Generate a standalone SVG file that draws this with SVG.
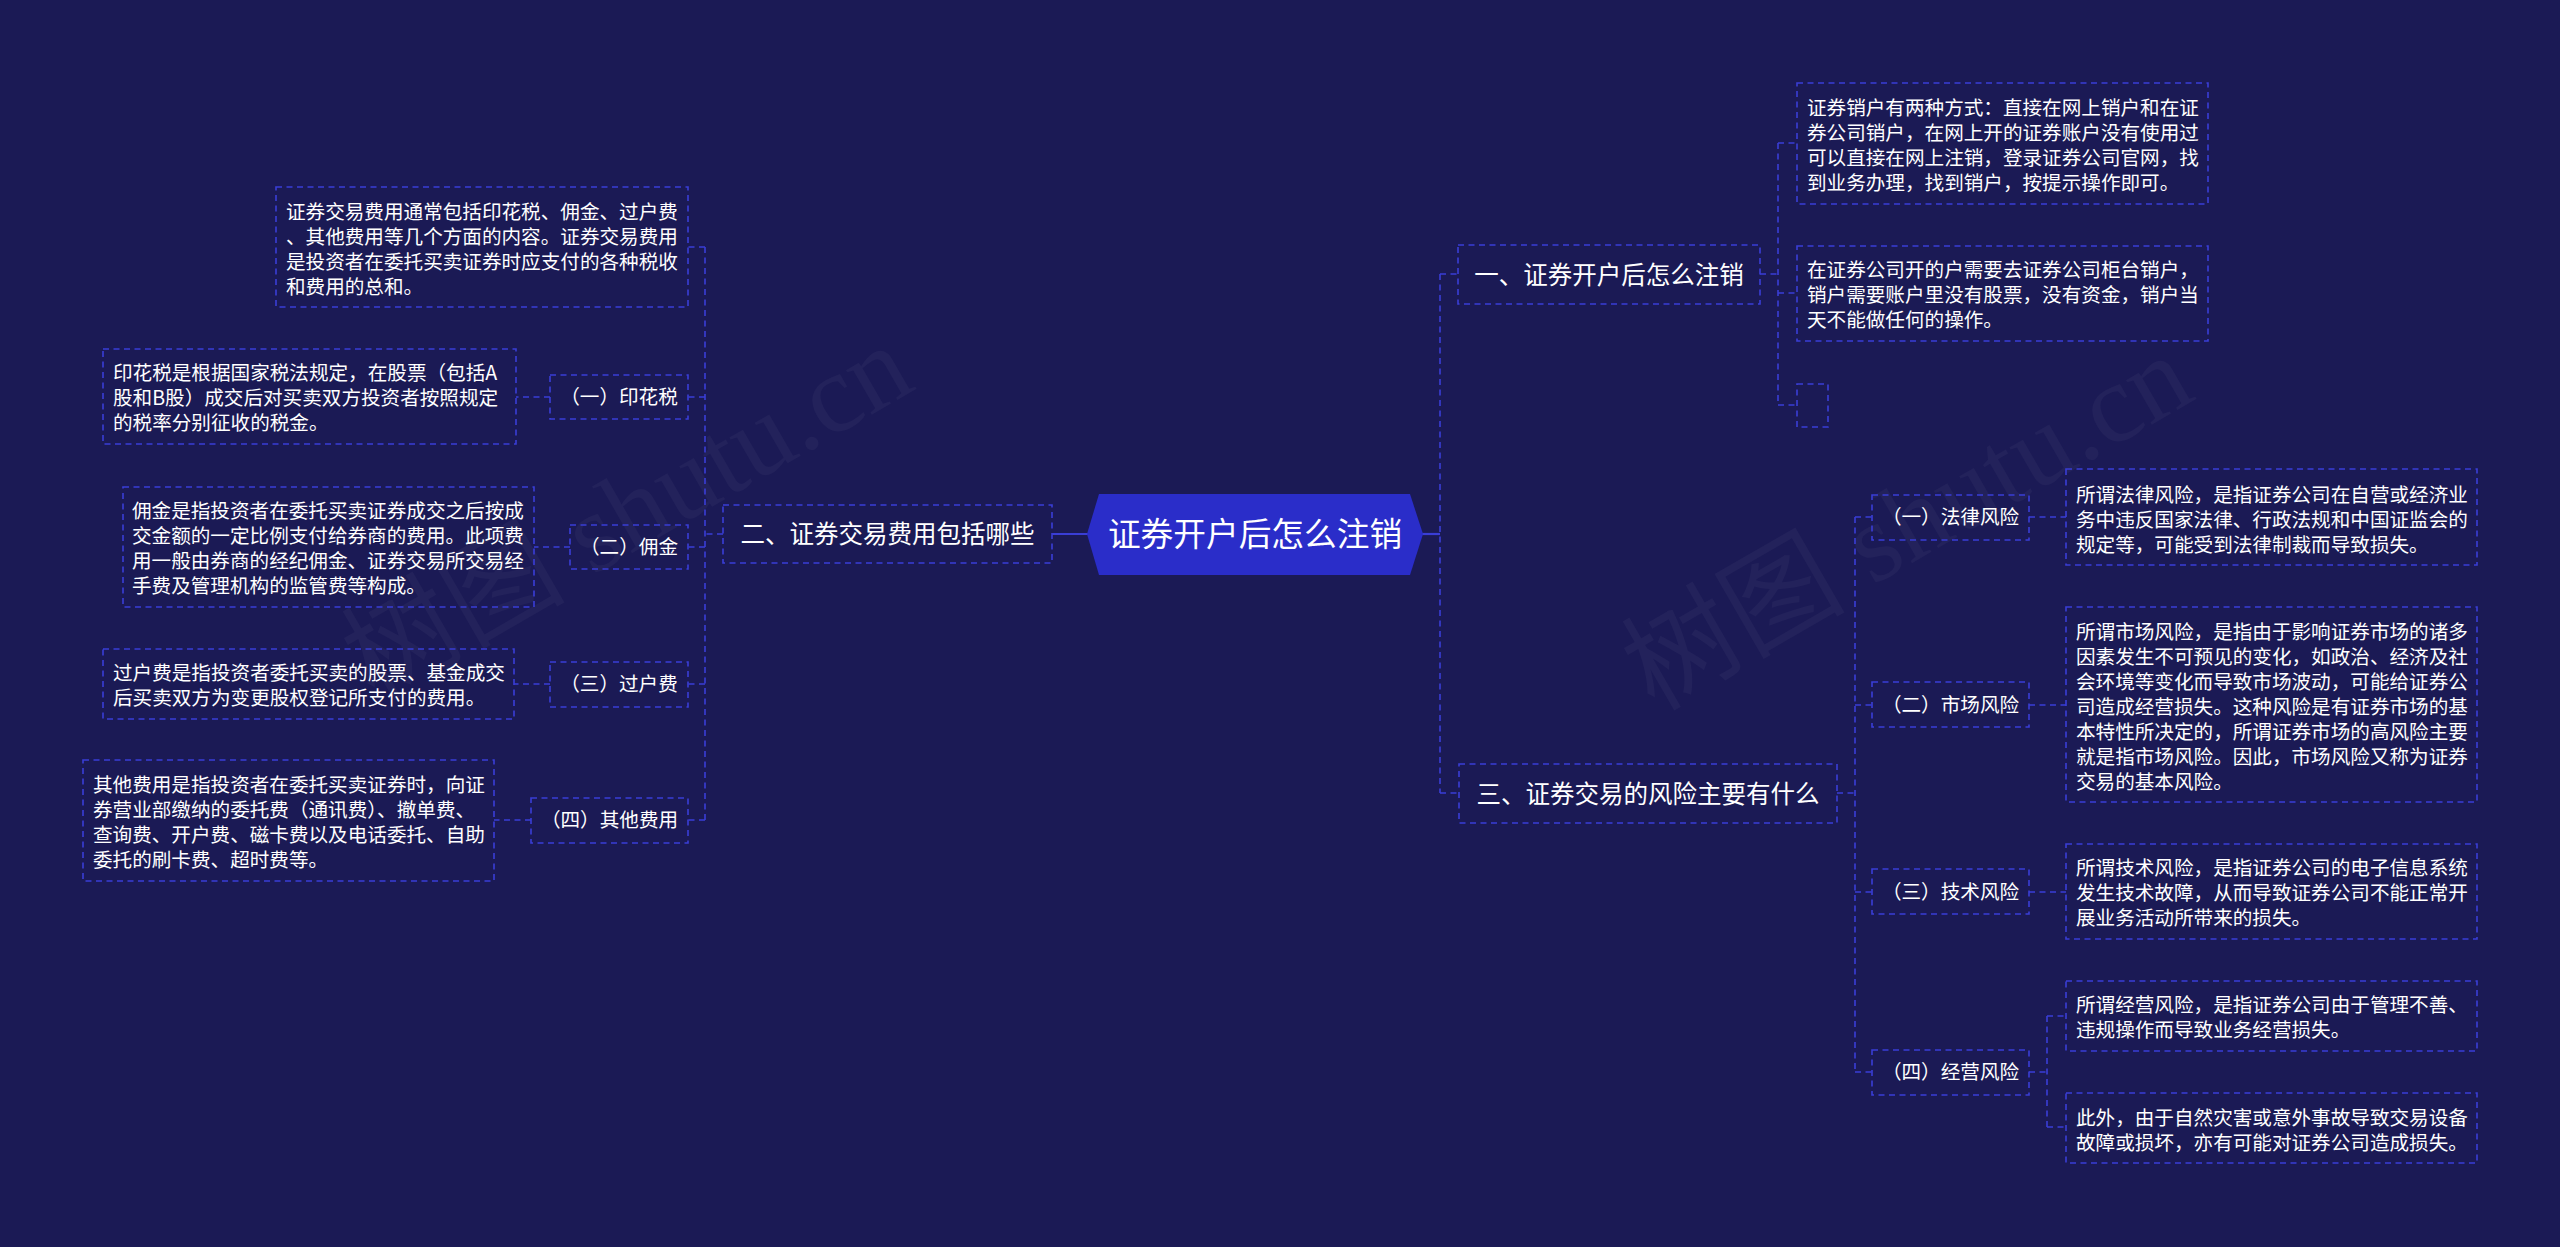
<svg xmlns="http://www.w3.org/2000/svg" width="2560" height="1247" viewBox="0 0 2560 1247">
<style>
.bg{fill:#1b1a55}
.box{fill:none;stroke:#3a3ed6;stroke-width:1.6;stroke-dasharray:6 4.5}
.ln{fill:none;stroke:#3a3ed6;stroke-width:1.6;stroke-dasharray:6 4.5}
.solid{fill:none;stroke:#3a3ed6;stroke-width:2.2}
.t{font-family:"Noto Sans CJK SC","Noto Sans",sans-serif;fill:#ffffff}
.note{font-size:19.6px}
.lab{font-size:19.6px;text-anchor:middle}
.main{font-size:24.5px;text-anchor:middle}
.root{font-size:32.7px;text-anchor:middle}
.wm{font-family:"Liberation Serif","Noto Sans CJK SC",serif;font-size:112px;fill:#ffffff;fill-opacity:0.035;text-anchor:middle}
</style>
<rect class="bg" x="0" y="0" width="2560" height="1247"/>
<g id="watermarks">
<text class="wm" transform="translate(646,545) rotate(-30)">树图 shutu.cn</text>
<text class="wm" transform="translate(1926,555) rotate(-30)">树图 shutu.cn</text>
</g>
<g id="connectors">
<line class="solid" x1="1052" y1="534" x2="1088" y2="534"/>
<line class="solid" x1="1422" y1="534" x2="1440" y2="534"/>
<!-- left branch -->
<line class="ln" x1="723" y1="534" x2="705" y2="534"/>
<line class="ln" x1="705" y1="247" x2="705" y2="820"/>
<line class="ln" x1="705" y1="247" x2="688" y2="247"/>
<line class="ln" x1="705" y1="397" x2="688" y2="397"/>
<line class="ln" x1="705" y1="547" x2="688" y2="547"/>
<line class="ln" x1="705" y1="684" x2="688" y2="684"/>
<line class="ln" x1="705" y1="820" x2="688" y2="820"/>
<line class="ln" x1="550" y1="397" x2="516" y2="397"/>
<line class="ln" x1="570" y1="547" x2="534" y2="547"/>
<line class="ln" x1="550" y1="684" x2="514" y2="684"/>
<line class="ln" x1="531" y1="820" x2="494" y2="820"/>
<!-- right branch -->
<line class="ln" x1="1440" y1="274" x2="1440" y2="793"/>
<line class="ln" x1="1440" y1="274" x2="1458" y2="274"/>
<line class="ln" x1="1440" y1="793" x2="1459" y2="793"/>
<line class="ln" x1="1760" y1="274" x2="1778" y2="274"/>
<line class="ln" x1="1778" y1="143" x2="1778" y2="405"/>
<line class="ln" x1="1778" y1="143" x2="1797" y2="143"/>
<line class="ln" x1="1778" y1="293" x2="1797" y2="293"/>
<line class="ln" x1="1778" y1="405" x2="1797" y2="405"/>
<line class="ln" x1="1837" y1="793" x2="1855" y2="793"/>
<line class="ln" x1="1855" y1="517" x2="1855" y2="1072"/>
<line class="ln" x1="1855" y1="517" x2="1872" y2="517"/>
<line class="ln" x1="1855" y1="705" x2="1872" y2="705"/>
<line class="ln" x1="1855" y1="892" x2="1872" y2="892"/>
<line class="ln" x1="1855" y1="1072" x2="1872" y2="1072"/>
<line class="ln" x1="2029" y1="517" x2="2066" y2="517"/>
<line class="ln" x1="2029" y1="705" x2="2066" y2="705"/>
<line class="ln" x1="2029" y1="892" x2="2066" y2="892"/>
<line class="ln" x1="2029" y1="1072" x2="2047" y2="1072"/>
<line class="ln" x1="2047" y1="1016" x2="2047" y2="1127"/>
<line class="ln" x1="2047" y1="1016" x2="2066" y2="1016"/>
<line class="ln" x1="2047" y1="1127" x2="2066" y2="1127"/>
</g>
<g id="root">
<polygon points="1087,534 1099,494 1410,494 1423,534 1410,575 1099,575" fill="#2a2dc9"/>
<text class="t root" x="1255" y="546">证券开户后怎么注销</text>
</g>
<g id="node-fees">
<rect class="box" x="723" y="505" width="329" height="58"/>
<text class="t main" x="887.5" y="543">二、证券交易费用包括哪些</text>
</g>
<g id="note-fees-summary">
<rect class="box" x="276" y="187" width="412" height="120"/>
<text class="t note" x="286" y="219">证券交易费用通常包括印花税、佣金、过户费</text>
<text class="t note" x="286" y="244">、其他费用等几个方面的内容。证券交易费用</text>
<text class="t note" x="286" y="269">是投资者在委托买卖证券时应支付的各种税收</text>
<text class="t note" x="286" y="294">和费用的总和。</text>
</g>
<g id="label-stamp">
<rect class="box" x="550" y="375" width="138" height="44"/>
<text class="t lab" x="619" y="404">（一）印花税</text>
</g>
<g id="note-stamp">
<rect class="box" x="103" y="349" width="413" height="95"/>
<text class="t note" x="113" y="380">印花税是根据国家税法规定，在股票（包括A</text>
<text class="t note" x="113" y="405">股和B股）成交后对买卖双方投资者按照规定</text>
<text class="t note" x="113" y="430">的税率分别征收的税金。</text>
</g>
<g id="label-commission">
<rect class="box" x="570" y="525" width="118" height="44"/>
<text class="t lab" x="629" y="554">（二）佣金</text>
</g>
<g id="note-commission">
<rect class="box" x="123" y="487" width="411" height="120"/>
<text class="t note" x="132" y="518">佣金是指投资者在委托买卖证券成交之后按成</text>
<text class="t note" x="132" y="543">交金额的一定比例支付给券商的费用。此项费</text>
<text class="t note" x="132" y="568">用一般由券商的经纪佣金、证券交易所交易经</text>
<text class="t note" x="132" y="593">手费及管理机构的监管费等构成。</text>
</g>
<g id="label-transfer">
<rect class="box" x="550" y="662" width="138" height="45"/>
<text class="t lab" x="619" y="691">（三）过户费</text>
</g>
<g id="note-transfer">
<rect class="box" x="103" y="649" width="411" height="70"/>
<text class="t note" x="113" y="680">过户费是指投资者委托买卖的股票、基金成交</text>
<text class="t note" x="113" y="705">后买卖双方为变更股权登记所支付的费用。</text>
</g>
<g id="label-other">
<rect class="box" x="531" y="798" width="157" height="45"/>
<text class="t lab" x="609.5" y="827">（四）其他费用</text>
</g>
<g id="note-other">
<rect class="box" x="83" y="760" width="411" height="121"/>
<text class="t note" x="93" y="792">其他费用是指投资者在委托买卖证券时，向证</text>
<text class="t note" x="93" y="817">券营业部缴纳的委托费（通讯费）、撤单费、</text>
<text class="t note" x="93" y="842">查询费、开户费、磁卡费以及电话委托、自助</text>
<text class="t note" x="93" y="867">委托的刷卡费、超时费等。</text>
</g>
<g id="node-cancel">
<rect class="box" x="1458" y="245" width="302" height="59"/>
<text class="t main" x="1609" y="284">一、证券开户后怎么注销</text>
</g>
<g id="note-cancel-1">
<rect class="box" x="1797" y="83" width="411" height="121"/>
<text class="t note" x="1807" y="115">证券销户有两种方式：直接在网上销户和在证</text>
<text class="t note" x="1807" y="140">券公司销户，在网上开的证券账户没有使用过</text>
<text class="t note" x="1807" y="165">可以直接在网上注销，登录证券公司官网，找</text>
<text class="t note" x="1807" y="190">到业务办理，找到销户，按提示操作即可。</text>
</g>
<g id="note-cancel-2">
<rect class="box" x="1797" y="246" width="411" height="95"/>
<text class="t note" x="1807" y="277">在证券公司开的户需要去证券公司柜台销户，</text>
<text class="t note" x="1807" y="302">销户需要账户里没有股票，没有资金，销户当</text>
<text class="t note" x="1807" y="327">天不能做任何的操作。</text>
</g>
<g id="note-cancel-3">
<rect class="box" x="1797" y="384" width="31" height="43"/>
</g>
<g id="node-risk">
<rect class="box" x="1459" y="764" width="378" height="59"/>
<text class="t main" x="1648" y="803">三、证券交易的风险主要有什么</text>
</g>
<g id="label-legal">
<rect class="box" x="1872" y="495" width="157" height="45"/>
<text class="t lab" x="1950.5" y="524">（一）法律风险</text>
</g>
<g id="note-legal">
<rect class="box" x="2066" y="469" width="411" height="96"/>
<text class="t note" x="2076" y="502">所谓法律风险，是指证券公司在自营或经济业</text>
<text class="t note" x="2076" y="527">务中违反国家法律、行政法规和中国证监会的</text>
<text class="t note" x="2076" y="552">规定等，可能受到法律制裁而导致损失。</text>
</g>
<g id="label-market">
<rect class="box" x="1872" y="682" width="157" height="45"/>
<text class="t lab" x="1950.5" y="712">（二）市场风险</text>
</g>
<g id="note-market">
<rect class="box" x="2066" y="607" width="411" height="195"/>
<text class="t note" x="2076" y="639">所谓市场风险，是指由于影响证券市场的诸多</text>
<text class="t note" x="2076" y="664">因素发生不可预见的变化，如政治、经济及社</text>
<text class="t note" x="2076" y="689">会环境等变化而导致市场波动，可能给证券公</text>
<text class="t note" x="2076" y="714">司造成经营损失。这种风险是有证券市场的基</text>
<text class="t note" x="2076" y="739">本特性所决定的，所谓证券市场的高风险主要</text>
<text class="t note" x="2076" y="764">就是指市场风险。因此，市场风险又称为证券</text>
<text class="t note" x="2076" y="789">交易的基本风险。</text>
</g>
<g id="label-tech">
<rect class="box" x="1872" y="869" width="157" height="45"/>
<text class="t lab" x="1950.5" y="899">（三）技术风险</text>
</g>
<g id="note-tech">
<rect class="box" x="2066" y="844" width="411" height="95"/>
<text class="t note" x="2076" y="875">所谓技术风险，是指证券公司的电子信息系统</text>
<text class="t note" x="2076" y="900">发生技术故障，从而导致证券公司不能正常开</text>
<text class="t note" x="2076" y="925">展业务活动所带来的损失。</text>
</g>
<g id="label-operation">
<rect class="box" x="1872" y="1050" width="157" height="45"/>
<text class="t lab" x="1950.5" y="1079">（四）经营风险</text>
</g>
<g id="note-operation-1">
<rect class="box" x="2066" y="981" width="411" height="70"/>
<text class="t note" x="2076" y="1012">所谓经营风险，是指证券公司由于管理不善、</text>
<text class="t note" x="2076" y="1037">违规操作而导致业务经营损失。</text>
</g>
<g id="note-operation-2">
<rect class="box" x="2066" y="1093" width="411" height="70"/>
<text class="t note" x="2076" y="1125">此外，由于自然灾害或意外事故导致交易设备</text>
<text class="t note" x="2076" y="1150">故障或损坏，亦有可能对证券公司造成损失。</text>
</g>
</svg>
